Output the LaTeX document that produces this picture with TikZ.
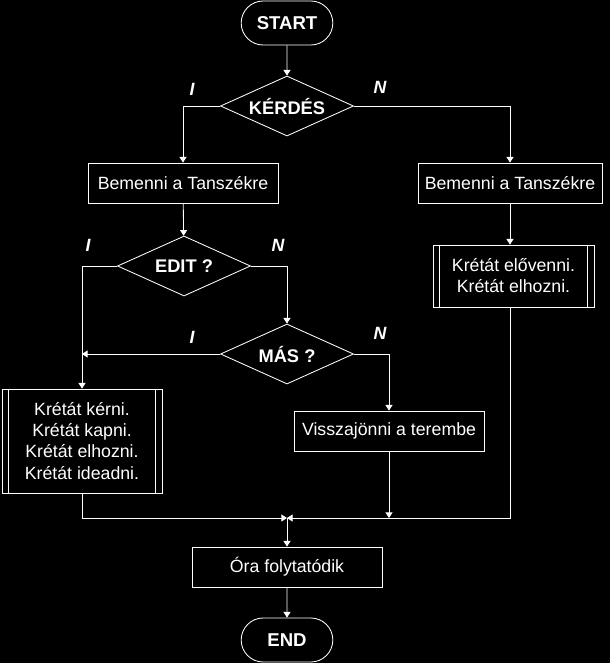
\documentclass[tikz,border=0pt]{standalone}
\usepackage{fontspec}
\setmainfont{Liberation Sans}
\usetikzlibrary{arrows.meta,shapes.geometric,shapes.misc}

\begin{document}
\begin{tikzpicture}[
  x=0.025cm, y=-0.025cm,
  white, line width=0.6pt,
  font=\fontsize{12.6}{15}\selectfont,
  terminal/.style={draw,rounded rectangle,minimum width=2.525cm,
    minimum height=1.1cm,font=\fontsize{13.2}{15}\selectfont\bfseries},
  decision/.style={draw,diamond,aspect=2.2,inner sep=0pt,minimum width=3.325cm,
    minimum height=1.5cm,font=\fontsize{13}{15}\selectfont\bfseries},
  process/.style={draw,minimum width=4.75cm,minimum height=1cm,align=center},
  subproc/.style={draw,align=center},
  branch/.style={font=\fontsize{12.6}{15}\selectfont\bfseries\itshape},
  arrow/.style={-{Triangle[length=4pt,width=5pt]}}
]
  \fill[black] (0,0) rectangle (610,663);

  \node[terminal] (start) at (287,23) {START};
  \node[decision] (kerdes) at (287,106) {KÉRDÉS};

  \node[process] (bem1) at (183,183) {Bemenni a Tanszékre};
  \node[process,minimum width=4.6cm] (bem2) at (510,183) {Bemenni a Tanszékre};

  \node[decision] (edit) at (184,266) {EDIT ?};
  \node[subproc,minimum width=4.025cm,minimum height=1.55cm] (kreta2)
    at (513.5,276) {Krétát elővenni.\\Krétát elhozni.};

  \node[decision] (mas) at (287,354) {MÁS ?};

  \node[subproc,minimum width=4cm,minimum height=2.6cm] (kreta1) at (82,441)
    {Krétát kérni.\\Krétát kapni.\\Krétát elhozni.\\Krétát ideadni.};
  \node[process] (vissza) at (389,431) {Visszajönni a terembe};

  \coordinate (join) at (287,518);
  \node[process] (ora) at (287,567) {Óra folytatódik};
  \node[terminal] (end) at (287,640) {END};

  % side bars of the predefined processes
  \foreach \k in {kreta1,kreta2} {
    \draw ([xshift=0.17cm]\k.north west) -- ([xshift=0.17cm]\k.south west);
    \draw ([xshift=-0.17cm]\k.north east) -- ([xshift=-0.17cm]\k.south east);
  }

  \draw[arrow] (start) -- (kerdes);
  \draw[arrow] (kerdes.west) -| (bem1.north);
  \draw[arrow] (kerdes.east) -| (bem2.north);
  \draw[arrow] (bem1) -- (edit);
  \draw[arrow] (bem2) -- (kreta2.north -| bem2.south);
  \draw[arrow] (edit.west) -| (kreta1.north);
  \draw[arrow] (edit.east) -| (mas.north);
  \draw[arrow] (mas.west) -- (mas.west -| kreta1.north);
  \draw[arrow] (mas.east) -| (vissza.north);
  \draw[arrow] (kreta1.south) |- (join);
  \draw[arrow] (kreta2.south -| bem2.south) |- (join);
  \draw[arrow] (vissza.south) -- (vissza.south |- join);
  \draw[arrow] (join) -- (ora);
  \draw[arrow] (ora) -- (end);

  \node[branch] (k-i) at (192,89) {I};
  \node[branch] (k-n) at (380,87) {N};
  \node[branch] (e-i) at (88,245) {I};
  \node[branch] (e-n) at (278,245) {N};
  \node[branch] (m-i) at (192,337) {I};
  \node[branch] (m-n) at (380,333) {N};
\end{tikzpicture}
\end{document}
